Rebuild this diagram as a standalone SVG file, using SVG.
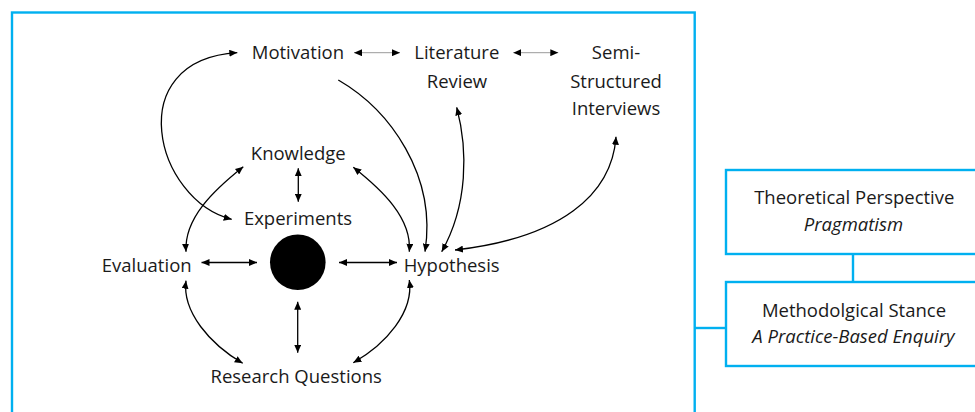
<svg xmlns="http://www.w3.org/2000/svg" width="975" height="412" viewBox="0 0 975 412">
<defs>
<marker id="ah" viewBox="0 0 8 7" refX="8" refY="3.5" markerWidth="8" markerHeight="7" markerUnits="userSpaceOnUse" orient="auto-start-reverse">
<path d="M0,0 L8,3.5 L0,7 z" fill="#000"/>
</marker>
</defs>
<style>
text{font-family:"Open Sans","Liberation Sans",sans-serif;font-size:18.5px;fill:#1a1a1a;text-anchor:middle}
.it{font-style:italic}
.frame{fill:none;stroke:#00B0F0;stroke-width:2.4}
.box{fill:#fff;stroke:#00B0F0;stroke-width:2.4}
.c{fill:none;stroke:#000;stroke-width:1.3}
.b{marker-start:url(#ah);marker-end:url(#ah)}
.e{marker-end:url(#ah)}
.g{fill:none;stroke:#9a9a9a;stroke-width:1}
</style>
<rect width="975" height="412" fill="#fff"/>
<g id="frame">
<rect class="frame" x="12" y="12.5" width="682.7" height="420"/>
<line class="frame" x1="694.7" y1="328" x2="726" y2="328"/>
<line class="frame" x1="853" y1="254" x2="853" y2="282"/>
</g>
<g id="theoretical-perspective">
<rect class="box" x="726" y="170" width="270" height="84"/>
<text x="854.3" y="204.3">Theoretical Perspective</text>
<text class="it" x="853.5" y="231">Pragmatism</text>
</g>
<g id="methodological-stance">
<rect class="box" x="726" y="282" width="270" height="84"/>
<text x="854" y="316.7">Methodolgical Stance</text>
<text class="it" x="853.5" y="343.3">A Practice-Based Enquiry</text>
</g>
<g id="connectors">
<path class="g b" d="M354,52.7 L400,52.7"/>
<path class="g b" d="M513.3,52.7 L558.3,52.7"/>
<path class="c b" d="M237.3,52.7 C120,60 155,200 231.7,219.3"/>
<path class="c e" d="M338.3,80 C390,110 437,175 425,251.7"/>
<path class="c b" d="M456.7,107.3 C468,150 468,205 441.7,251.7"/>
<path class="c b" d="M616,136.7 C612,195 560,238 455,250"/>
<path class="c b" d="M298.3,168.3 L298.3,201.7"/>
<path class="c b" d="M243.3,166.7 C214,190 184,218 186,251.7"/>
<path class="c b" d="M353.3,167.3 C382,190 412,218 409.3,251.7"/>
<path class="c b" d="M186,280.7 C182,312 210,344 242.7,363.3"/>
<path class="c b" d="M409.3,280 C414,312 386,344 353.3,362.7"/>
<path class="c b" d="M201.5,262.5 L257,262.5"/>
<path class="c b" d="M339,262.5 L397,262.5"/>
<path class="c b" d="M297.7,301.7 L297.7,352.7"/>
</g>
<g id="motivation"><text x="297.9" y="59.3">Motivation</text></g>
<g id="literature-review"><text x="456.8" y="59.3">Literature</text><text x="457" y="87.5">Review</text></g>
<g id="semi-structured-interviews"><text x="616" y="59.3">Semi-</text><text x="616" y="87.5">Structured</text><text x="616" y="115.3">Interviews</text></g>
<g id="knowledge"><text x="298.3" y="160">Knowledge</text></g>
<g id="experiments"><text x="298" y="224.5">Experiments</text></g>
<g id="evaluation"><text x="146.7" y="272.3">Evaluation</text></g>
<g id="hub"><circle cx="297.8" cy="262.3" r="27.8" fill="#000"/></g>
<g id="hypothesis"><text x="451.7" y="272.3">Hypothesis</text></g>
<g id="research-questions"><text x="296.2" y="383.3">Research Questions</text></g>
</svg>
